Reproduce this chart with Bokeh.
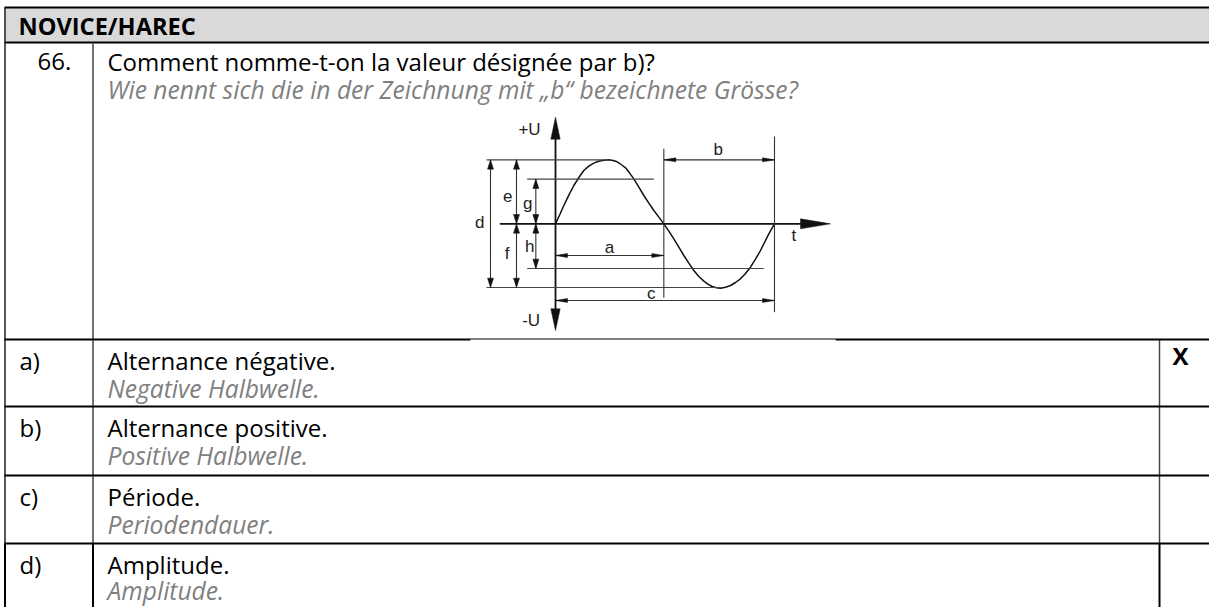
from bokeh.plotting import figure
from bokeh.embed import file_html
from bokeh.resources import INLINE
from bokeh.models import Range1d
from bokeh.core.properties import value

FONT = "Open Sans"
header = "NOVICE/HAREC"
qnum = "66."
question_fr = "Comment nomme-t-on la valeur désignée par b)?"
question_de = "Wie nennt sich die in der Zeichnung mit „b“ bezeichnete Grösse?"
letters = ["a)", "b)", "c)", "d)"]
answers_fr = ["Alternance négative.", "Alternance positive.", "Période.", "Amplitude."]
answers_de = ["Negative Halbwelle.", "Positive Halbwelle.", "Periodendauer.", "Amplitude."]
mark = "X"

# page pixels
row_tops = [339, 406, 475, 543]
de_offsets = [48.5, 48.5, 48.5, 47]
W, H = 1209, 607

# sine curve (3x crop coordinates)
curve_x = [285,298,310,325,340,355,370,385,400,412,425,445,458,470,482,495,507,520,535,550,565,580,595,610,625,640,655,670,685,700,715,730,742,755,768,780,795,810,825,840,855,870,885,900,912,925,942]
curve_y = [400,372,345,314,285,261,240,227,218,213,210,208,210,214,222,232,247,265,290,315,338,360,380,400,422,445,470,495,518,540,558,572,581,588,592,593,590,585,576,565,549,530,506,480,456,430,400]
def zx(v): return 460 + v / 3
def zy(v): return 90 + v / 3

p = figure(width=W, height=H, output_backend="svg", toolbar_location=None,
           x_range=Range1d(0, W), y_range=Range1d(H, 0), min_border=0,
           outline_line_color=None, background_fill_color="white")
p.axis.visible = False
p.grid.visible = False
p.margin = (0, 0, 0, 0)

def seg(x0, y0, x1, y1, c="black", w=1.0):
    p.line([x0, x1], [y0, y1], line_color=c, line_width=w)

def txt(x, y, s, size, color="#000000", style="normal", align="left", font=FONT):
    p.text([x], [y], text=[s], text_font=value(font), text_font_size=f"{size}px", text_color=color,
           text_font_style=style, text_align=align, text_baseline="middle")

# header band
p.quad(left=[4], right=[W], top=[7], bottom=[42], fill_color="#d9d9d9", line_color=None)

# table lines
seg(4, 7, W, 7, "black", 2)
seg(4, 42, W, 42, "black", 2)
seg(4.5, 7, 4.5, row_tops[3], "#222222", 1.5)
seg(4.5, row_tops[3], 4.5, H, "black", 2)
seg(92.5, 42, 92.5, row_tops[3], "#444444", 1.5)
seg(92.5, row_tops[3], 92.5, H, "black", 2)
seg(1159, row_tops[0], 1159, row_tops[3], "#444444", 1.5)
seg(1159, row_tops[3], 1159, H, "black", 2)
seg(4, row_tops[0], 470, row_tops[0], "black", 2)
seg(835, row_tops[0], W, row_tops[0], "black", 2)
seg(470, 338.5, 835, 338.5, "black", 1)
for y in row_tops[1:]:
    seg(4, y, W, y, "black", 2)

# text
FS = 24
DS = 24.6
txt(18, 25, header, 23.6, style="bold")
txt(37, 61, qnum, FS)
txt(107, 61, question_fr, FS)
txt(107, 89, question_de, DS, "#808080", "italic")
for i, y in enumerate(row_tops):
    txt(19, y + 21, letters[i], FS)
    txt(107, y + 21, answers_fr[i], FS)
    txt(107, y + de_offsets[i], answers_de[i], DS, "#808080", "italic")
txt(1180, 355, mark, 24, style="bold", align="center")

# diagram
p.line([zx(v) for v in curve_x], [zy(v) for v in curve_y], line_color="#111111", line_width=1.5)
seg(zx(285), zy(100), zx(285), zy(700), "#111111", 1.8)
seg(zx(118), zy(400), zx(1030), zy(400), "#111111", 1.8)
for a, b, c, d in [(78,208,445,208),(200,266,580,266),(200,534,910,534),(78,591,780,591)]:
    seg(zx(a), zy(b), zx(c), zy(d), "#444444", 1.1)
for a, b, c, d in [(610,175,610,622),(942,138,942,665),(90,208,90,591),(168,208,168,591),(226,266,226,534),
                   (285,495,610,495),(610,208,942,208),(285,630,942,630)]:
    seg(zx(a), zy(b), zx(c), zy(d), "#333333", 1.1)

def tri(pts, c="#111111"):
    p.patch([zx(a) for a, b in pts], [zy(b) for a, b in pts], fill_color=c, line_color=c, line_width=0.5)

tri([(285,80),(271,146),(299,146)])
tri([(285,720),(271,655),(299,655)])
tri([(1110,400),(1020,385),(1020,415)])
def arrow_v(x, y, d):
    tri([(x, y), (x - 9, y + d * 28), (x + 9, y + d * 28)])
def arrow_h(x, y, d):
    tri([(x, y), (x + d * 36, y - 6), (x + d * 36, y + 6)])
for x, y, d in [(90,208,1),(90,591,-1),(168,208,1),(168,400,-1),(168,400,1),(168,591,-1),(226,266,1),(226,400,-1),(226,400,1),(226,534,-1)]:
    arrow_v(x, y, d)
for x, y, d in [(285,495,1),(610,495,-1),(610,208,1),(942,208,-1),(285,630,1),(942,630,-1)]:
    arrow_h(x, y, d)

labels = ["+U", "-U", "b", "e", "g", "d", "f", "h", "a", "c", "t"]
label_x = [207, 212, 773, 142, 202, 58, 140, 208, 447, 572, 1000]
label_y = [118, 690, 178, 316, 340, 397, 490, 468, 470, 608, 435]
for s, a, b in zip(labels, label_x, label_y):
    txt(zx(a), zy(b), s, 17, "#222222", align="center", font="Liberation Sans")

html = file_html(p, INLINE)
open("out.html", "w").write(html)
